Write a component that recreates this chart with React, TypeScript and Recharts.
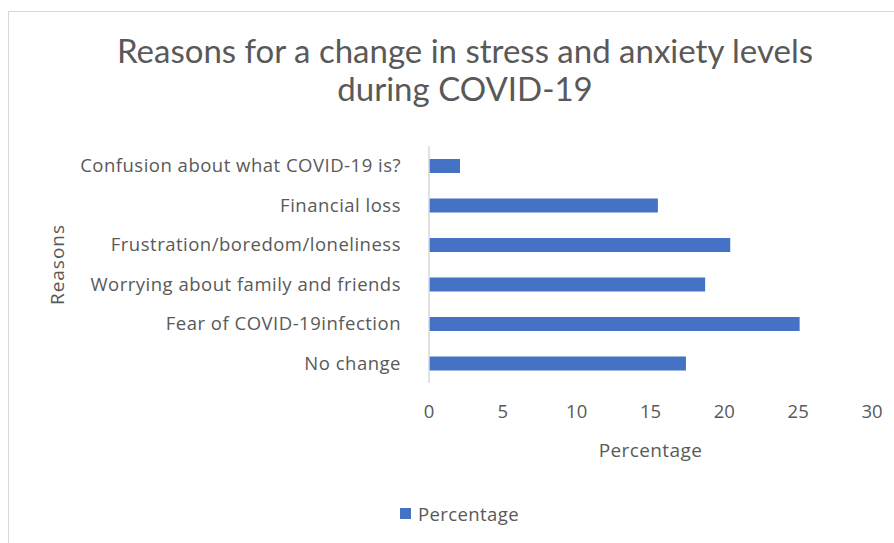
import React from 'react';
import { BarChart, Bar, XAxis, YAxis, Legend } from 'recharts';

// Survey answers: share of respondents giving each reason (%)
const reasons = [
  'Confusion about what COVID-19 is?',
  'Financial loss',
  'Frustration/boredom/loneliness',
  'Worrying about family and friends',
  'Fear of COVID-19infection',
  'No change',
];
const percentages = [2.1, 15.5, 20.4, 18.7, 25.1, 17.4];
const xTicks = [0, 5, 10, 15, 20, 25, 30];

const titleLines = ['Reasons for a change in stress and anxiety levels', 'during COVID-19'];

const data = reasons.map((reason, i) => ({ reason, Percentage: percentages[i] }));

const TITLE_FONT = 'Lato, "Open Sans", sans-serif';
const FONT = '"Open Sans", Lato, sans-serif';
const TEXT = '#595959';
const BAR = '#4472C4';
const W = 894;
const H = 543;

const YTitle = (props: any) => {
  const vb = props.viewBox || {};
  const cx = vb.x + 37;
  const cy = vb.y + vb.height / 2;
  return (
    <text
      x={cx}
      y={cy}
      transform={`rotate(-90 ${cx} ${cy})`}
      textAnchor="middle"
      dominantBaseline="central"
      fill={TEXT}
      fontSize={19}
      letterSpacing={1}
      fontFamily={FONT}
    >
      Reasons
    </text>
  );
};

const XTitle = (props: any) => {
  const vb = props.viewBox || {};
  return (
    <text
      x={vb.x + vb.width / 2}
      y={vb.y + 67}
      textAnchor="middle"
      dominantBaseline="central"
      fill={TEXT}
      fontSize={19}
      letterSpacing={0.4}
      fontFamily={FONT}
    >
      Percentage
    </text>
  );
};

const LegendBox = () => (
  <div
    style={{
      display: 'flex',
      alignItems: 'center',
      fontFamily: FONT,
      fontSize: 18.5,
      letterSpacing: 0.4,
      color: TEXT,
      whiteSpace: 'nowrap',
    }}
  >
    <span style={{ width: 11, height: 11, background: BAR, display: 'inline-block', marginRight: 7 }} />
    <span>Percentage</span>
  </div>
);

export default function App() {
  return (
    <div style={{ position: 'absolute', left: 0, top: 0, width: W, height: H, overflow: 'hidden', background: '#fff' }}>
      <div
        style={{
          position: 'absolute',
          left: 8,
          top: 11,
          width: W + 20,
          height: H + 20,
          border: '1px solid #d9d9d9',
          boxSizing: 'border-box',
        }}
      />
      <svg width={W} height={120} style={{ position: 'absolute', left: 0, top: 0 }}>
        {titleLines.map((line, i) => (
          <text
            key={i}
            x={465}
            y={63 + i * 38}
            textAnchor="middle"
            fill={TEXT}
            fontSize={33}
            fontFamily={TITLE_FONT}
          >
            {line}
          </text>
        ))}
      </svg>
      <div style={{ position: 'absolute', left: 0, top: 0 }}>
        <BarChart
          width={W}
          height={H}
          data={data}
          layout="vertical"
          margin={{ top: 146, right: 22, bottom: 100, left: 20 }}
        >
          <XAxis
            type="number"
            domain={[0, 30]}
            ticks={xTicks}
            axisLine={false}
            tickLine={false}
            tickSize={6}
            tickMargin={16}
            height={60}
            tick={{ fill: TEXT, fontSize: 18.5, fontFamily: FONT }}
            label={<XTitle />}
          />
          <YAxis
            type="category"
            dataKey="reason"
            width={409}
            axisLine={{ stroke: '#d9d9d9', strokeWidth: 1.5 }}
            tickLine={false}
            tickSize={6}
            tickMargin={22}
            interval={0}
            tick={{ fill: TEXT, fontSize: 18.5, fontFamily: FONT, letterSpacing: 0.5 }}
            label={<YTitle />}
          />
          <Legend
            verticalAlign="middle"
            content={<LegendBox />}
            wrapperStyle={{ position: 'absolute', left: 400, top: 501, width: 'auto' }}
          />
          <Bar dataKey="Percentage" fill={BAR} barSize={14} isAnimationActive={false} />
        </BarChart>
      </div>
    </div>
  );
}
